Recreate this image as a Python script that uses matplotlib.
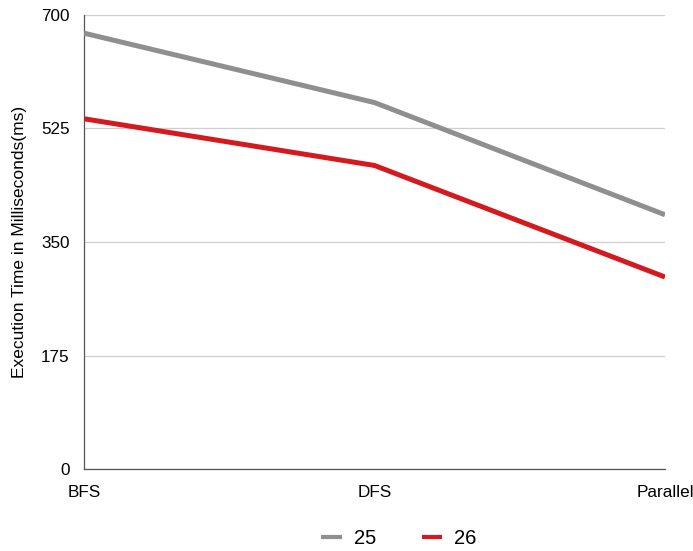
import matplotlib
matplotlib.use("Agg")
import matplotlib.pyplot as plt

plt.rcParams['font.family'] = ['Liberation Sans', 'DejaVu Sans']

categories = ["BFS", "DFS", "Parallel"]
series_25 = [672, 565, 392]
series_26 = [540, 468, 296]
y_ticks = [0, 175, 350, 525, 700]

fig = plt.figure(figsize=(6.93, 5.51), dpi=100)
ax = fig.add_axes([0.1212, 0.1488, 0.8384, 0.824])

x = list(range(len(categories)))
ax.plot(x, series_25, color="#8f8f8f", lw=3.6, solid_capstyle="butt", label="25", zorder=3)
ax.plot(x, series_26, color="#d41a1f", lw=3.6, solid_capstyle="butt", label="26", zorder=3)

ax.set_xlim(0, len(categories) - 1)
ax.set_ylim(0, 700)
ax.set_yticks(y_ticks)
ax.set_yticklabels([str(v) for v in y_ticks], fontsize=12.3)
ax.set_xticks(x)
ax.set_xticklabels(categories, fontsize=12.3)
ax.tick_params(axis="both", length=0)
ax.tick_params(axis="y", pad=10.5)
ax.tick_params(axis="x", pad=11.5)

ax.grid(axis="y", color="#cfcfcf", lw=0.9, zorder=0)
ax.set_axisbelow(True)
for side in ("top", "right"):
    ax.spines[side].set_visible(False)
ax.spines["left"].set_color("#555555")
ax.spines["bottom"].set_color("#555555")
ax.spines["left"].set_linewidth(0.9)
ax.spines["bottom"].set_linewidth(0.9)

ax.set_ylabel("Execution Time in Milliseconds(ms)", fontsize=12.5, labelpad=10)

leg = ax.legend(loc="center", bbox_to_anchor=(0.576, 0.023), bbox_transform=fig.transFigure,
                ncol=2, frameon=False, fontsize=14.5, handlelength=1.0,
                handletextpad=0.6, columnspacing=2.3)
for h in leg.get_lines():
    h.set_linewidth(3.0)

fig.savefig("out.png", dpi=100)
